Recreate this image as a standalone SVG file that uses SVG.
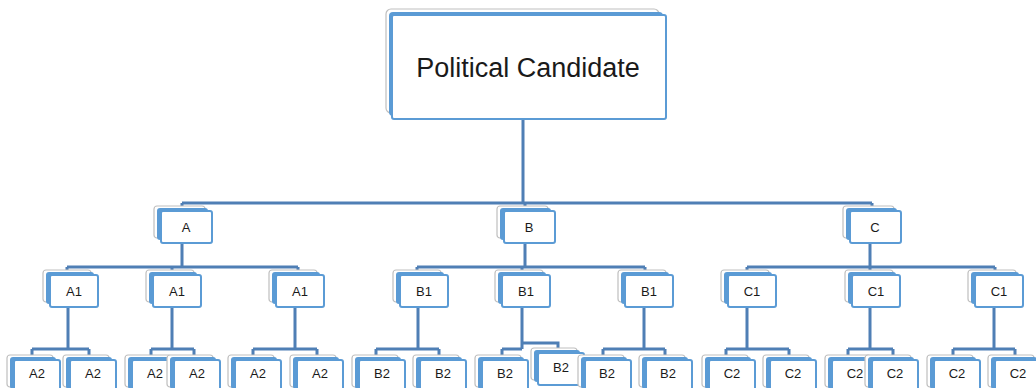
<svg xmlns="http://www.w3.org/2000/svg" width="1036" height="388" viewBox="0 0 1036 388">
<style>
.back{fill:#fff;stroke:#bfbfbf;stroke-width:1.2}
.mid{fill:#5b9bd5}
.front{fill:#fff;stroke:#5b9bd5;stroke-width:2}
.t{font-family:"Liberation Sans",Arial,sans-serif;font-size:13px;fill:#1a1a1a;text-anchor:middle}
.tt{font-family:"Liberation Sans",Arial,sans-serif;font-size:27px;fill:#1a1a1a;text-anchor:middle}
.c{fill:none;stroke:#4f7fb5;stroke-width:3}
</style>
<defs>
<g id="s0"><rect class="back" x="-7" y="-5" width="48" height="32" rx="3"/><rect class="mid" x="-4" y="-3" width="48" height="32" rx="3"/><rect class="front" x="0" y="0" width="48" height="32" rx="2"/></g>
<g id="s2"><rect class="back" x="-7" y="-5" width="46" height="32" rx="3"/><rect class="mid" x="-4" y="-3" width="46" height="32" rx="3"/><rect class="front" x="0" y="0" width="46" height="32" rx="2"/></g>
<g id="sL"><rect class="back" x="-7" y="-5" width="51" height="32" rx="3"/><rect class="mid" x="-4" y="-3" width="51" height="32" rx="3"/><rect class="front" x="0" y="0" width="51" height="32" rx="2"/></g>
</defs>
<g id="connectors">
<path class="c" d="M523 119V203M182 203H872M182 203V212M525 203V212M872 203V212"/>
<path class="c" d="M182 243V267M67 267H298M67 267V272M172 267V272M298 267V272"/>
<path class="c" d="M525 243V267M417 267H645M417 267V272M522 267V272M645 267V272"/>
<path class="c" d="M870 243V267M747 267H995M747 267V272M870 267V272M995 267V272"/>
<path class="c" d="M68 307V349M32 349H89M32 349V356M89 349V356"/>
<path class="c" d="M172 307V349M151 349H194M151 349V356M194 349V356"/>
<path class="c" d="M295 307V349M253 349H317M253 349V356M317 349V356"/>
<path class="c" d="M418 307V349M376 349H439M376 349V356M439 349V356"/>
<path class="c" d="M522 307V349M502 349H522M502 349V356M522 343H558V349"/>
<path class="c" d="M644 307V349M603 349H665M603 349V356M665 349V356"/>
<path class="c" d="M747 307V349M726 349H789M726 349V356M789 349V356"/>
<path class="c" d="M870 307V349M848 349H893M848 349V356M893 349V356"/>
<path class="c" d="M994 307V349M953 349H1015M953 349V356M1015 349V356"/>
</g>
<g id="root"><rect class="back" x="386" y="9" width="273" height="104" rx="5"/><rect class="mid" x="389" y="12" width="274" height="104" rx="4"/><rect class="front" x="392" y="15" width="274" height="104" rx="2"/><text class="tt" x="528" y="77">Political Candidate</text></g>
<g id="nA"><use href="#sL" x="161" y="211"/><text class="t" x="186" y="232">A</text></g>
<g id="nB"><use href="#sL" x="504" y="211"/><text class="t" x="529" y="232">B</text></g>
<g id="nC"><use href="#sL" x="850" y="211"/><text class="t" x="875" y="232">C</text></g>
<g id="nA1a"><use href="#s0" x="50" y="275"/><text class="t" x="74" y="296">A1</text></g>
<g id="nA1b"><use href="#s0" x="153" y="275"/><text class="t" x="177" y="296">A1</text></g>
<g id="nA1c"><use href="#s0" x="276" y="275"/><text class="t" x="300" y="296">A1</text></g>
<g id="nB1a"><use href="#s0" x="400" y="275"/><text class="t" x="424" y="296">B1</text></g>
<g id="nB1b"><use href="#s0" x="502" y="275"/><text class="t" x="526" y="296">B1</text></g>
<g id="nB1c"><use href="#s0" x="625" y="275"/><text class="t" x="649" y="296">B1</text></g>
<g id="nC1a"><use href="#s0" x="728" y="275"/><text class="t" x="752" y="296">C1</text></g>
<g id="nC1b"><use href="#s0" x="852" y="275"/><text class="t" x="876" y="296">C1</text></g>
<g id="nC1c"><use href="#s0" x="975" y="275"/><text class="t" x="999" y="296">C1</text></g>
<g id="nA2a"><use href="#s2" x="14" y="360"/><text class="t" x="37" y="378">A2</text></g>
<g id="nA2b"><use href="#s2" x="70" y="360"/><text class="t" x="93" y="378">A2</text></g>
<g id="nA2c"><use href="#s2" x="132" y="360"/><text class="t" x="155" y="378">A2</text></g>
<g id="nA2d"><use href="#s2" x="174" y="360"/><text class="t" x="197" y="378">A2</text></g>
<g id="nA2e"><use href="#s2" x="235" y="360"/><text class="t" x="258" y="378">A2</text></g>
<g id="nA2f"><use href="#s2" x="297" y="360"/><text class="t" x="320" y="378">A2</text></g>
<g id="nB2a"><use href="#s2" x="359" y="360"/><text class="t" x="382" y="378">B2</text></g>
<g id="nB2b"><use href="#s2" x="420" y="360"/><text class="t" x="443" y="378">B2</text></g>
<g id="nB2c"><use href="#s2" x="482" y="360"/><text class="t" x="505" y="378">B2</text></g>
<g id="nB2p"><use href="#s2" x="538" y="353"/><text class="t" x="561" y="372">B2</text></g>
<g id="nB2d"><use href="#s2" x="585" y="360"/><text class="t" x="607" y="378">B2</text></g>
<g id="nB2e"><use href="#s2" x="646" y="360"/><text class="t" x="668" y="378">B2</text></g>
<g id="nC2a"><use href="#s2" x="709" y="360"/><text class="t" x="732" y="378">C2</text></g>
<g id="nC2b"><use href="#s2" x="770" y="360"/><text class="t" x="793" y="378">C2</text></g>
<g id="nC2c"><use href="#s2" x="832" y="360"/><text class="t" x="855" y="378">C2</text></g>
<g id="nC2d"><use href="#s2" x="872" y="360"/><text class="t" x="895" y="378">C2</text></g>
<g id="nC2e"><use href="#s2" x="934" y="360"/><text class="t" x="957" y="378">C2</text></g>
<g id="nC2f"><use href="#s2" x="995" y="360"/><text class="t" x="1018" y="378">C2</text></g>
</svg>
